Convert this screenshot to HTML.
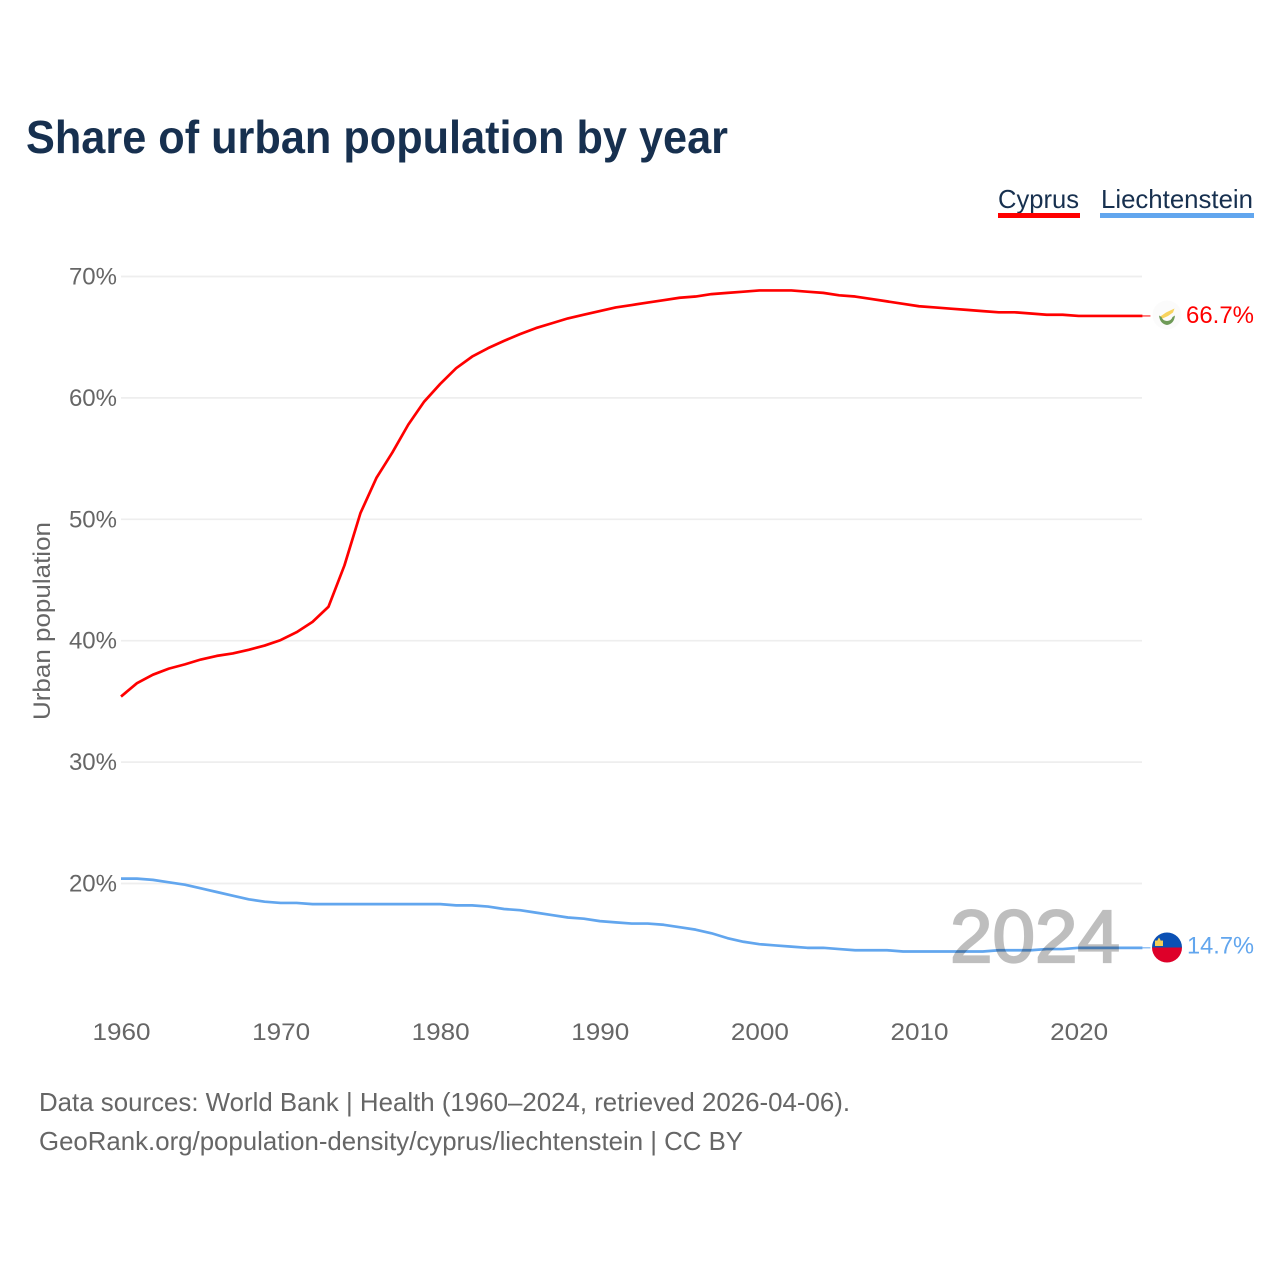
<!DOCTYPE html>
<html lang="en">
<head>
<meta charset="utf-8">
<title>Share of urban population by year</title>
<style>
html,body{margin:0;padding:0;background:#fff;}
svg{display:block;font-family:"Liberation Sans",sans-serif;}
</style>
</head>
<body>
<svg id="chart" xmlns="http://www.w3.org/2000/svg" width="1280" height="1280" viewBox="0 0 1280 1280">
  <rect width="1280" height="1280" fill="#fff"/>
  <text x="26" y="153" font-size="46" font-weight="700" fill="#17304f" textLength="702" lengthAdjust="spacingAndGlyphs">Share of urban population by year</text>

  <g id="grid"></g>
  <g id="yticks"></g>
  <g id="xticks"></g>
  <text transform="translate(50 621) rotate(-90)" text-anchor="middle" font-size="24" fill="#666" textLength="198" lengthAdjust="spacingAndGlyphs">Urban population</text>

  <g id="series"></g>

  <text x="950" y="962" font-size="74" font-weight="400" fill="#000" stroke="#000" stroke-width="2.2" opacity="0.25" textLength="170" lengthAdjust="spacingAndGlyphs">2024</text>

  <g>
    <text x="998" y="208" font-size="26" fill="#17304f" textLength="81" lengthAdjust="spacingAndGlyphs">Cyprus</text>
    <rect x="998" y="213" width="82" height="5" fill="#ff0000"/>
  </g>
  <g>
    <text x="1101" y="208" font-size="26" fill="#17304f" textLength="152" lengthAdjust="spacingAndGlyphs">Liechtenstein</text>
    <rect x="1100" y="213" width="154" height="5" fill="#62a6ee"/>
  </g>

  <g>
    <circle cx="1167" cy="315" r="14.5" fill="#fbfbfb"/>
    <path d="M1159.500 317 L1166 312.500 L1174.500 308.500 L1173 312.500 L1168 316 L1162.500 318.500 Z" fill="#f8d35e"/>
    <path d="M1159 315.500 Q1160 324 1167 325 Q1174 324 1175 315.500 L1172.500 317 Q1171.500 320.500 1167 321 Q1162.500 320.500 1161.500 317 Z" fill="#6e9a57"/>
  </g>
  <text x="1186" y="323" font-size="24.5" fill="#ff0000" textLength="68" lengthAdjust="spacingAndGlyphs">66.7%</text>

  <g>
    <path d="M1152 947.500 A15 15 0 0 1 1182 947.500 Z" fill="#0b50b4"/>
    <path d="M1152 947.500 A15 15 0 0 0 1182 947.500 Z" fill="#de0029"/>
    <path d="M1155 946 L1155 941 Q1156 939.500 1157 941 Q1158 939 1159 937.500 Q1160 939 1161 941 Q1162 939.500 1163 941 L1163 946 Z" fill="#f3cf57"/>
  </g>
  <text x="1187" y="953.500" font-size="24.5" fill="#62a6ee" textLength="67" lengthAdjust="spacingAndGlyphs">14.7%</text>

  <text x="39" y="1111" font-size="26" fill="#666" textLength="811" lengthAdjust="spacingAndGlyphs">Data sources: World Bank | Health (1960–2024, retrieved 2026-04-06).</text>
  <text x="39" y="1150" font-size="26" fill="#666" textLength="704" lengthAdjust="spacingAndGlyphs">GeoRank.org/population-density/cyprus/liechtenstein | CC BY</text>
</svg>
<script>
const startYear = 1960;
const yTickValues = [20, 30, 40, 50, 60, 70];
const xTickValues = [1960, 1970, 1980, 1990, 2000, 2010, 2020];
const cyprusValues = [
  35.4, 36.5, 37.2, 37.7, 38.05, 38.45, 38.75, 38.95, 39.25, 39.6,
  40.05, 40.7, 41.55, 42.8, 46.2, 50.5, 53.4, 55.5, 57.8, 59.7,
  61.15, 62.45, 63.4, 64.1, 64.7, 65.25, 65.75, 66.15, 66.55, 66.85,
  67.15, 67.45, 67.65, 67.85, 68.05, 68.25, 68.35, 68.55, 68.65, 68.75,
  68.85, 68.85, 68.85, 68.75, 68.65, 68.45, 68.35, 68.15, 67.95, 67.75,
  67.55, 67.45, 67.35, 67.25, 67.15, 67.05, 67.05, 66.95, 66.85, 66.85,
  66.75, 66.75, 66.75, 66.75, 66.75
];
const liechtensteinValues = [
  20.4, 20.4, 20.3, 20.1, 19.9, 19.6, 19.3, 19.0, 18.7, 18.5,
  18.4, 18.4, 18.3, 18.3, 18.3, 18.3, 18.3, 18.3, 18.3, 18.3,
  18.3, 18.2, 18.2, 18.1, 17.9, 17.8, 17.6, 17.4, 17.2, 17.1,
  16.9, 16.8, 16.7, 16.7, 16.6, 16.4, 16.2, 15.9, 15.5, 15.2,
  15.0, 14.9, 14.8, 14.7, 14.7, 14.6, 14.5, 14.5, 14.5, 14.4,
  14.4, 14.4, 14.4, 14.4, 14.4, 14.5, 14.5, 14.5, 14.6, 14.6,
  14.7, 14.7, 14.7, 14.7, 14.7
];

const NS = 'http://www.w3.org/2000/svg';
function xScale(year) { return 121 + (year - 1960) * 15.96; }
function yScale(v) { return 276.5 + (70 - v) * 12.14; }

function make(tag, attrs, parent) {
  const el = document.createElementNS(NS, tag);
  for (const k in attrs) el.setAttribute(k, attrs[k]);
  parent.appendChild(el);
  return el;
}

const gridG = document.getElementById('grid');
const yG = document.getElementById('yticks');
const xG = document.getElementById('xticks');
const seriesG = document.getElementById('series');

yTickValues.forEach(function (v) {
  const line = make('line', { x1: 121, x2: 1142, y1: yScale(v), y2: yScale(v), stroke: '#eeeeee', 'stroke-width': 1.7 }, gridG);
  
  
  const t = make('text', { x: 117, y: yScale(v) + 8, 'text-anchor': 'end', 'font-size': 24, fill: '#666' }, yG);
  
  
  t.textContent = v + '%';
});

xTickValues.forEach(function (yr) {
  const t = make('text', { x: xScale(yr) + 0.5, y: 1040, 'text-anchor': 'middle', 'font-size': 24, fill: '#666', textLength: 58, lengthAdjust: 'spacingAndGlyphs' }, xG);
  
  
  t.textContent = yr;
});

function drawSeries(values, color, name) {
  const pts = values.map(function (v, i) {
    return xScale(startYear + i).toFixed(2) + ',' + yScale(v).toFixed(2);
  }).join(' ');
  const line = make('polyline', { points: pts, fill: 'none', stroke: color, 'stroke-width': 2.7, 'stroke-linejoin': 'round' }, seriesG);
  
  
  const lastYear = startYear + values.length - 1;
  const lastY = yScale(values[values.length - 1]);
  const conn = make('line', { x1: xScale(lastYear), x2: xScale(lastYear) + 8, y1: lastY, y2: lastY, stroke: color, 'stroke-width': 1 }, seriesG);
  
  
}
drawSeries(cyprusValues, '#ff0000', 'line-cyprus');
drawSeries(liechtensteinValues, '#62a6ee', 'line-liechtenstein');
</script>
</body>
</html>
